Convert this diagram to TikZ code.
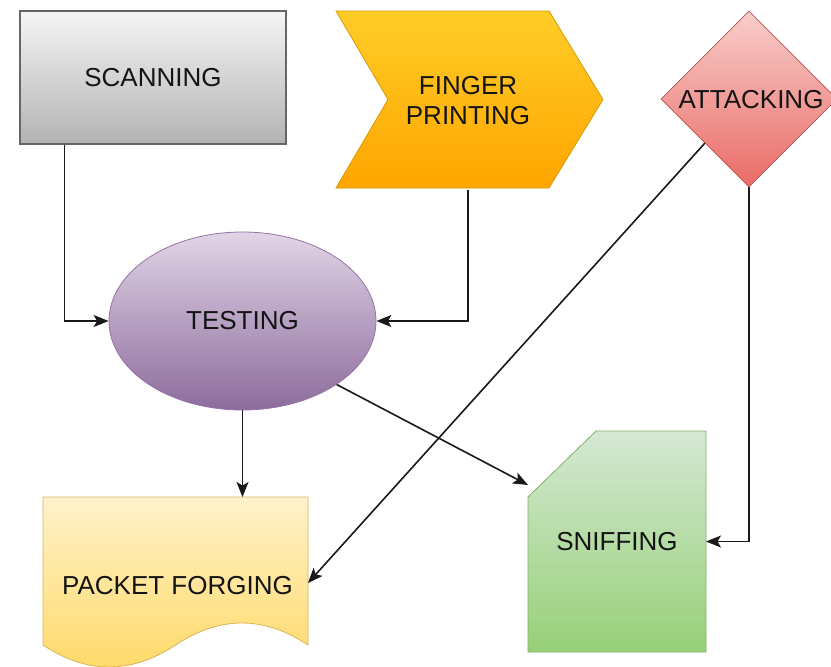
\documentclass[tikz,border=0pt]{standalone}
\usepackage{fontspec}
\setmainfont{Liberation Sans}
\usetikzlibrary{arrows.meta,shapes.geometric,calc}
\definecolor{grayT}{HTML}{F5F5F5}
\definecolor{grayB}{HTML}{B3B3B3}
\definecolor{grayD}{HTML}{666666}
\definecolor{orT}{HTML}{FFCD28}
\definecolor{orB}{HTML}{FFA500}
\definecolor{orD}{HTML}{D79B00}
\definecolor{rdT}{HTML}{F8CECC}
\definecolor{rdB}{HTML}{EA6B66}
\definecolor{rdD}{HTML}{B85450}
\definecolor{puT}{HTML}{E1D5E7}
\definecolor{puB}{HTML}{8C6C9C}
\definecolor{puD}{HTML}{9673A6}
\definecolor{yeT}{HTML}{FFF2CC}
\definecolor{yeB}{HTML}{FFD966}
\definecolor{yeD}{HTML}{D6B656}
\definecolor{grT}{HTML}{D5E8D4}
\definecolor{grB}{HTML}{97D077}
\definecolor{grD}{HTML}{82B366}
\definecolor{txt}{HTML}{141414}
\tikzset{
  lbl/.style={font=\fontsize{26}{30}\selectfont, text=txt, inner sep=0pt},
  arr/.style={draw=black!90, line width=1.6pt, -{Stealth[length=15pt,width=12pt,inset=3.5pt]}},
  scanbox/.style={rectangle, draw=grayD, line width=1.4pt, top color=grayT, bottom color=grayB, minimum width=266pt, minimum height=133pt, inner sep=0pt, lbl},
  testbox/.style={ellipse, draw=puD, line width=0.8pt, top color=puT, bottom color=puB, minimum width=267pt, minimum height=178pt, inner sep=0pt, lbl},
  attackbox/.style={diamond, draw=rdD, line width=0.8pt, top color=rdT, bottom color=rdB, minimum width=176pt, minimum height=176pt, inner sep=0pt},
  fingerfill/.style={draw=orD, line width=0.8pt, top color=orT, bottom color=orB},
  docfill/.style={draw=yeD, line width=0.8pt, top color=yeT, bottom color=yeB},
  cardfill/.style={draw=grD, line width=0.8pt, top color=grT, bottom color=grB},
  ghost/.style={rectangle, inner sep=0pt, outer sep=0pt, lbl}
}
\begin{document}
\begin{tikzpicture}[x=1pt,y=-1pt]
\useasboundingbox (0,0) rectangle (831,667);
\fill[white] (0,0) rectangle (831,667);
% shapes
\node[scanbox] (scan) at (153,77.5) {SCANNING};
\path[fingerfill] (336,11) -- (549,11) -- (603,99.5) -- (549,188) -- (336,188) -- (388,99.5) -- cycle;
\node[ghost, minimum width=267pt, minimum height=177pt, align=center] (finger) at (468,100.5) {FINGER\\PRINTING};
\node[attackbox] (attack) at (749,99) {};
\node[lbl] (attacktext) at (751,100) {ATTACKING};
\node[testbox] (test) at (242.5,321) {TESTING};
\path[docfill] (43,497) -- (308,497) -- (308,645)
  .. controls (264,615.67) and (219.83,615.67) .. (175.5,645)
  .. controls (131.17,674.33) and (87,674.33) .. (43,645) -- cycle;
\node[ghost, minimum width=265pt, minimum height=148pt] (pfbox) at (175.5,571) {};
\node[lbl] (pf) at (177.5,586) {PACKET FORGING};
\path[cardfill] (528,497) -- (596,431) -- (706,431) -- (706,652) -- (528,652) -- cycle;
\node[ghost, minimum width=178pt, minimum height=221pt] (sniff) at (617,541.5) {SNIFFING};
% connectors
\draw[arr] ([xshift=45pt]scan.south west) |- (test.west);
\draw[arr] ([yshift=-1pt]finger.south) |- (test.east);
\draw[arr] (test.south) -- (test.south |- pfbox.north);
\draw[arr] (test.-34.4) -- ([yshift=-54pt]sniff.north west);
\draw[arr] ($(attack.west)!0.5!(attack.south)$) -- ([yshift=-12pt]pfbox.east);
\draw[arr] (attack.south) |- (sniff.east);
\end{tikzpicture}
\end{document}
